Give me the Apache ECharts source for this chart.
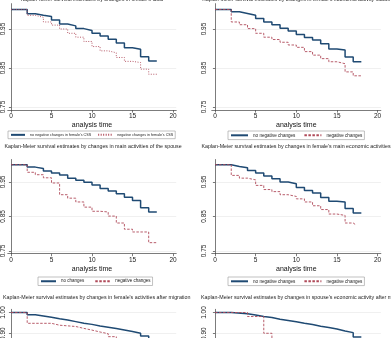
<!DOCTYPE html>
<html>
<head>
<meta charset="utf-8">
<script src="https://cdn.jsdelivr.net/npm/echarts@6/dist/echarts.min.js"></script>
<style>
  html, body { margin: 0; padding: 0; background: #fff; }
  #main { width: 391px; height: 338px; }
</style>
</head>
<body>
<div id="main"></div>
<script>
// analysis time at which each step happens (last value = end of follow-up)
var stepTimes = [0, 2, 3, 4, 5, 6, 7, 8, 9, 10, 11, 12, 13, 14, 15, 16, 17, 18];

// panel 1: female's CSS
var cssNoNeg = [1, 0.989, 0.985, 0.982, 0.973, 0.963, 0.958, 0.951, 0.946, 0.939, 0.932, 0.924, 0.914, 0.902, 0.898, 0.879, 0.868, 0.868];
var cssNeg = [1, 0.985, 0.980, 0.968, 0.960, 0.950, 0.939, 0.929, 0.918, 0.905, 0.894, 0.889, 0.877, 0.867, 0.864, 0.847, 0.834, 0.834];

// panel 2: female's economic activity status
var ecoNoNeg = [1, 0.994, 0.990, 0.985, 0.977, 0.968, 0.961, 0.952, 0.945, 0.936, 0.928, 0.922, 0.912, 0.899, 0.896, 0.878, 0.866, 0.866];
var ecoNeg = [1, 0.968, 0.961, 0.951, 0.939, 0.929, 0.923, 0.916, 0.909, 0.903, 0.892, 0.883, 0.874, 0.866, 0.861, 0.840, 0.830, 0.830];

// panel 3: main activities of the spouse
var spNo = [1, 0.993, 0.989, 0.982, 0.976, 0.970, 0.961, 0.955, 0.949, 0.941, 0.931, 0.924, 0.916, 0.906, 0.896, 0.875, 0.863, 0.863];
var spNeg = [1, 0.978, 0.971, 0.962, 0.947, 0.913, 0.903, 0.892, 0.877, 0.865, 0.863, 0.851, 0.831, 0.813, 0.805, 0.805, 0.774, 0.774];

// panel 4: female's main economic activities
var mainNoNeg = [1, 0.995, 0.991, 0.983, 0.976, 0.967, 0.959, 0.950, 0.945, 0.934, 0.925, 0.918, 0.905, 0.894, 0.892, 0.873, 0.860, 0.860];
var mainNegTimes = [0, 2, 3, 4, 5, 6, 7, 8, 9, 10, 11, 12, 13, 14, 15, 16, 17, 17.3];
var mainNeg = [1, 0.969, 0.961, 0.956, 0.940, 0.928, 0.922, 0.913, 0.908, 0.901, 0.892, 0.881, 0.870, 0.857, 0.853, 0.831, 0.826, 0.826];

// panel 5: female's activities after migration
var migNo = [1, 0.989, 0.984, 0.978, 0.971, 0.965, 0.957, 0.949, 0.944, 0.936, 0.930, 0.924, 0.917, 0.910, 0.902, 0.889, 0.875, 0.875];
var migNegTimes = [0, 2, 5, 6, 8, 9, 10, 11, 12, 13, 14, 16];
var migNeg = [1, 0.949, 0.940, 0.934, 0.925, 0.917, 0.908, 0.900, 0.886, 0.870, 0.850, 0.850];

// panel 6: spouse's economic activity after migration
var spMigTimes = [0, 2, 4, 5, 6, 7, 8, 9, 10, 11, 12, 13, 14, 15, 16, 17, 18];
var spMigNo = [1, 0.994, 0.988, 0.981, 0.976, 0.968, 0.962, 0.956, 0.949, 0.943, 0.935, 0.929, 0.922, 0.913, 0.905, 0.885, 0.885];
var spMigNegTimes = [0, 4, 6, 7, 9, 12, 13];
var spMigNeg = [1, 0.981, 0.902, 0.860, 0.840, 0.820, 0.820];

var xTicks = [0, 5, 10, 15, 20];
var yTicksTop = [0.75, 0.85, 0.95];
var yTicksBottom = [0.60, 0.70, 0.80, 0.90, 1.00];

var titles = [
  "Kaplan-Meier survival estimates by changes in female's CSS",
  "Kaplan-Meier survival estimates by changes in female's economic activity status",
  "Kaplan-Meier survival estimates by changes in main activities of the spouse",
  "Kaplan-Meier survival estimates by changes in female's main economic activities",
  "Kaplan-Meier survival estimates by changes in female's activities after migration",
  "Kaplan-Meier survival estimates by changes in spouse's economic activity after migration"
];

function pairs(t, s) {
  return t.map(function (v, i) { return [v, s[i]]; });
}

var font = 'Liberation Sans, Arial, Helvetica, sans-serif';
var navy = '#1f4a73';
var maroon = '#b04b5a';

var colGeo = [{ x0: 11, k: 8.1, labMargin: 1.5 }, { x0: 215, k: 8.13, labMargin: 4 }];
var rowGeo = [
  { y1: 9.5, k: 390, ymin: 0.742, ymax: 1.015, ticks: yTicksTop, titleY: 0, legendY: 131 },
  { y1: 164.7, k: 345, ymin: 0.742, ymax: 1.015, ticks: yTicksTop, titleY: 146.3, legendY: 277 },
  { y1: 312.5, k: 212, ymin: 0.5, ymax: 1.015, ticks: yTicksBottom, titleY: 297.7 }
];
var xmin = -0.4, xmax = 20.4;

var panels = [
  { col: 0, row: 0, names: ["no negative changes in female's CSS", "negative changes in female's CSS"],
    lines: [[stepTimes, cssNoNeg], [stepTimes, cssNeg]], second: [1, 1.5],
    legend: { left: 8, w: 14, gap: 6, fs: 3.7 }, tx: 92, align: 'center' },
  { col: 1, row: 0, names: ['no negative changes', 'negative changes'],
    lines: [[stepTimes, ecoNoNeg], [stepTimes, ecoNeg]], second: [2.5, 1.5],
    legend: { left: 228, w: 17, gap: 8, fs: 4.6 }, tx: 296, align: 'center' },
  { col: 0, row: 1, names: ['no changes', 'negative changes'],
    lines: [[stepTimes, spNo], [stepTimes, spNeg]], second: [2.5, 1.5],
    legend: { left: 38, w: 15, gap: 10, fs: 4.5 }, tx: 93, align: 'center' },
  { col: 1, row: 1, names: ['no negative changes', 'negative changes'],
    lines: [[stepTimes, mainNoNeg], [mainNegTimes, mainNeg]], second: [2.5, 1.5],
    legend: { left: 228, w: 17, gap: 8, fs: 4.6 }, tx: 296, align: 'center' },
  { col: 0, row: 2, names: ['no changes ', 'negative changes '],
    lines: [[stepTimes, migNo], [migNegTimes, migNeg]], second: [2.5, 1.5],
    tx: 3, align: 'left' },
  { col: 1, row: 2, names: ['no negative changes ', 'negative changes  '],
    lines: [[spMigTimes, spMigNo], [spMigNegTimes, spMigNeg]], second: [2.5, 1.5],
    tx: 201, align: 'left' }
];

var option = {
  animation: false,
  backgroundColor: '#fff',
  legend: [], grid: [], xAxis: [], yAxis: [], series: [], graphic: []
};

panels.forEach(function (p, i) {
  var c = colGeo[p.col], r = rowGeo[p.row];
  option.grid.push({
    left: c.x0 + xmin * c.k, width: (xmax - xmin) * c.k,
    top: r.y1 - (r.ymax - 1) * r.k, height: (r.ymax - r.ymin) * r.k,
    containLabel: false, outerBoundsMode: 'none'
  });
  option.xAxis.push({
    type: 'value', gridIndex: i, min: xmin, max: xmax,
    name: 'analysis time', nameLocation: 'middle', nameGap: 11.5,
    nameTextStyle: { fontSize: 7, color: '#111', fontFamily: font },
    axisLine: { lineStyle: { color: '#444', width: 0.7 } },
    axisTick: { customValues: xTicks, length: 2.5, lineStyle: { color: '#444', width: 0.7 } },
    axisLabel: { customValues: xTicks, fontSize: 6.5, margin: 2.5, color: '#222', fontFamily: font },
    splitLine: { show: false }
  });
  option.yAxis.push({
    type: 'value', gridIndex: i, min: r.ymin, max: r.ymax,
    axisLine: { show: true, lineStyle: { color: '#444', width: 0.7 } },
    axisTick: { show: true, customValues: r.ticks, length: 2, lineStyle: { color: '#444', width: 0.7 } },
    axisLabel: {
      customValues: r.ticks, rotate: 90, margin: c.labMargin, fontSize: 6.5, color: '#222', fontFamily: font,
      formatter: function (v) { return v.toFixed(2); }
    },
    splitLine: { show: true, lineStyle: { color: '#e6e6e6', width: 0.6 } }
  });
  option.series.push({
    type: 'line', name: p.names[0], xAxisIndex: i, yAxisIndex: i, step: 'end', symbol: 'none',
    data: pairs(p.lines[0][0], p.lines[0][1]),
    lineStyle: { color: navy, width: 1.5 }, itemStyle: { color: navy }
  });
  option.series.push({
    type: 'line', name: p.names[1], xAxisIndex: i, yAxisIndex: i, step: 'end', symbol: 'none',
    data: pairs(p.lines[1][0], p.lines[1][1]),
    lineStyle: { color: maroon, width: 0.9, type: p.second }, itemStyle: { color: maroon }
  });
  if (p.legend) {
    option.legend.push({
      data: p.names, left: p.legend.left, top: r.legendY, orient: 'horizontal',
      padding: [1.5, 2], itemGap: p.legend.gap, itemWidth: p.legend.w, itemHeight: 4,
      borderColor: '#999', borderWidth: 0.6, selectedMode: false,
      itemStyle: { opacity: 0 },
      textStyle: { fontSize: p.legend.fs, color: '#222', fontFamily: font, lineHeight: p.legend.fs + 1 }
    });
  }
  option.graphic.push({
    type: 'text', x: p.tx, y: r.titleY, silent: true,
    style: { text: titles[i], fontSize: 5.3, fill: '#222', fontFamily: font, align: p.align, verticalAlign: 'middle' }
  });
});

var myChart = echarts.init(document.getElementById('main'));
myChart.setOption(option);
</script>
</body>
</html>
